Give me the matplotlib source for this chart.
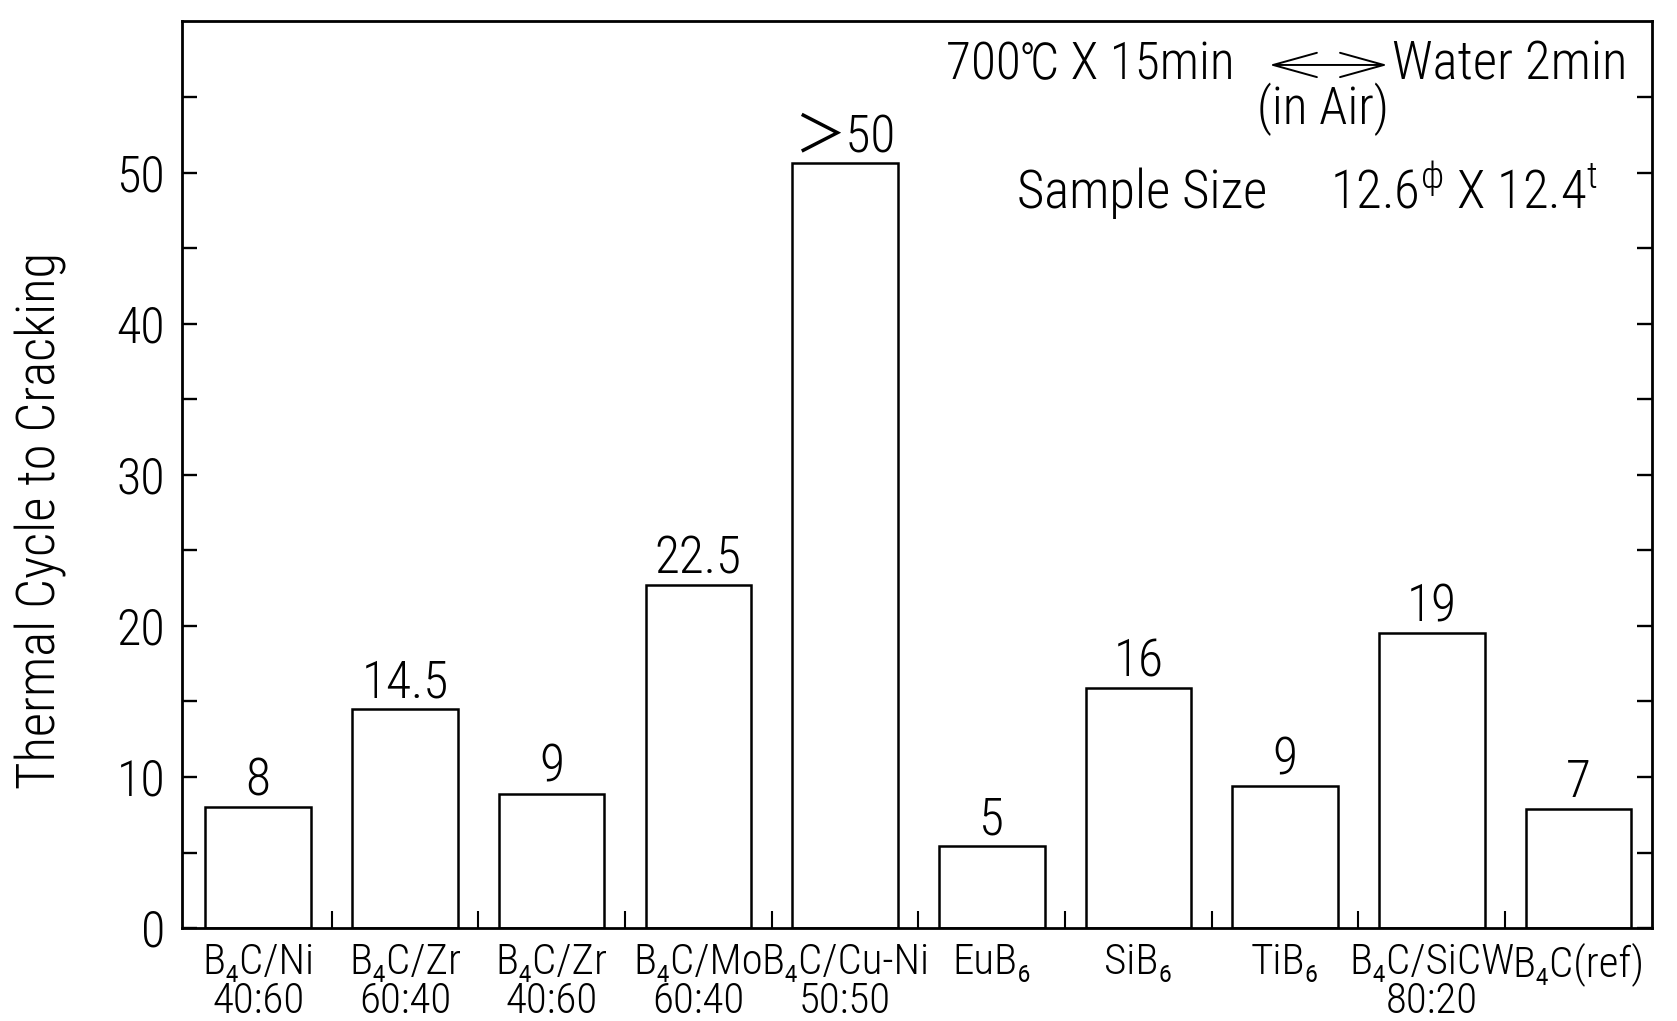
import matplotlib
matplotlib.use('Agg')
import matplotlib.pyplot as plt
import numpy as np

# 字体
FONT = ['Roboto Condensed', 'Noto Sans CJK SC', 'DejaVu Sans']
plt.rcParams['font.family'] = FONT
plt.rcParams['font.weight'] = 'light'
plt.rcParams['mathtext.fontset'] = 'custom'
plt.rcParams['mathtext.rm'] = 'Roboto Condensed:light'
plt.rcParams['mathtext.it'] = 'Roboto Condensed:light'

# 数据
materials = ['B₄C/Ni\n40:60', 'B₄C/Zr\n60:40', 'B₄C/Zr\n40:60', 'B₄C/Mo\n60:40', 'B₄C/Cu-Ni\n50:50',
             'EuB₆', 'SiB₆', 'TiB₆', 'B₄C/SiCW\n80:20', 'B₄C(ref)']
bar_heights = [8.0, 14.5, 8.9, 22.7, 50.6, 5.4, 15.9, 9.4, 19.5, 7.9]
value_labels = ['8', '14.5', '9', '22.5', '＞50', '5', '16', '9', '19', '7']
y_ticks = [0, 10, 20, 30, 40, 50]

fig = plt.figure(figsize=(16.77, 10.21), dpi=100)
ax = fig.add_axes([0.1085, 0.091, 0.8765, 0.888])

x = np.arange(len(materials))
ax.bar(x, bar_heights, width=0.72, facecolor='white', edgecolor='black', linewidth=1.8)

# 柱顶数值
for xi, h, lab in zip(x, bar_heights, value_labels):
    ax.text(xi, h + 0.05, lab, ha='center', va='bottom', fontsize=37, family=FONT)

ax.set_xlim(-0.52, len(materials) - 0.5)
ax.set_ylim(0, 60)

ax.set_yticks(y_ticks)
ax.set_yticks(np.arange(5, 60, 10), minor=True)
ax.tick_params(axis='y', which='both', direction='in', length=11, width=1.7,
               labelsize=36, right=True, pad=12)
ax.set_xticks(x)
ax.set_xticklabels(materials, fontsize=31, linespacing=0.95)
ax.set_xticks(x[:-1] + 0.5, minor=True)
ax.tick_params(axis='x', which='major', length=0, pad=10)
ax.tick_params(axis='x', which='minor', direction='in', length=12, width=1.5)

for s in ax.spines.values():
    s.set_linewidth(2.0)

ax.set_ylabel('Thermal Cycle to Cracking', fontsize=38, fontweight='light')
ax.yaxis.set_label_coords(-0.078, 0.45)

# 试验条件
ax.text(0.520, 0.952, '700℃ X 15min', transform=ax.transAxes, fontsize=37,
        ha='left', va='center', family=FONT)
ax.annotate('', xy=(0.822, 0.952), xytext=(0.738, 0.952), xycoords='axes fraction',
            arrowprops=dict(arrowstyle='<->, head_length=0.9, head_width=0.25',
                            lw=1.4, mutation_scale=35))
ax.text(0.823, 0.952, 'Water 2min', transform=ax.transAxes, fontsize=38,
        ha='left', va='center', family=FONT)
ax.text(0.776, 0.903, '(in Air)', transform=ax.transAxes, fontsize=37,
        ha='center', va='center', family=FONT)
ax.text(0.568, 0.81, 'Sample Size', transform=ax.transAxes, fontsize=38,
        ha='left', va='center', family=FONT)
ax.text(0.781, 0.81, r'12.6$^{\phi}$ X 12.4$^{t}$', transform=ax.transAxes, fontsize=38,
        ha='left', va='center', family=FONT)

fig.savefig('out.png', dpi=100, facecolor='white')
